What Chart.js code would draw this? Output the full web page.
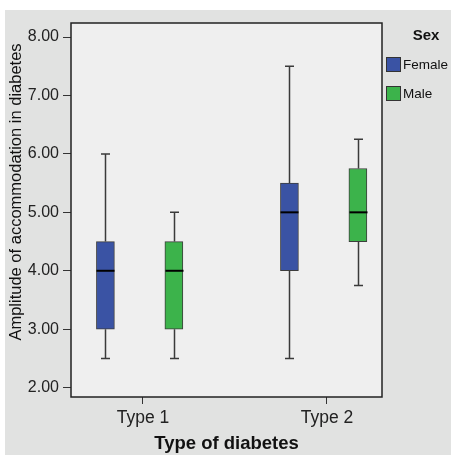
<!DOCTYPE html>
<html>
<head>
<meta charset="utf-8">
<script src="https://cdn.jsdelivr.net/npm/chart.js@4.4.1/dist/chart.umd.min.js"></script>
<style>
  html, body { margin: 0; padding: 0; background: #fff; }
  canvas { display: block; }
</style>
</head>
<body>
<canvas id="c" width="451" height="455"></canvas>
<script>
// data
const categories = ['Type 1', 'Type 2'];
const seriesNames = ['Female', 'Male'];
const yTicks = [2, 3, 4, 5, 6, 7, 8];

const femaleMin = [2.5, 2.5];
const femaleQ1  = [3.0, 4.0];
const femaleMed = [4.0, 5.0];
const femaleQ3  = [4.5, 5.5];
const femaleMax = [6.0, 7.5];

const maleMin = [2.5, 3.75];
const maleQ1  = [3.0, 4.5];
const maleMed = [4.0, 5.0];
const maleQ3  = [4.5, 5.75];
const maleMax = [5.0, 6.25];

const FONT = "'Liberation Sans', Arial, sans-serif";
const colors = ['#3a53a4', '#3cb34b'];
const offsets = [-0.204, 0.168]; // box position relative to the category tick

const stats = [
  { min: femaleMin, q1: femaleQ1, med: femaleMed, q3: femaleQ3, max: femaleMax },
  { min: maleMin, q1: maleQ1, med: maleMed, q3: maleQ3, max: maleMax }
];

const boxPlot = {
  id: 'boxPlot',
  beforeDraw(chart) {
    const { ctx, chartArea: a } = chart;
    ctx.save();
    ctx.fillStyle = '#fff';
    ctx.fillRect(0, 0, chart.width, chart.height);
    ctx.fillStyle = '#e1e2e1';
    ctx.fillRect(5, 10, chart.width - 5, chart.height - 10);
    ctx.fillStyle = '#efefef';
    ctx.fillRect(a.left, a.top, a.right - a.left, a.bottom - a.top);
    ctx.restore();
  },
  beforeDatasetsDraw(chart) {
    const { ctx, scales: { x, y } } = chart;
    ctx.save();
    ctx.strokeStyle = '#3a3a3a';
    ctx.lineWidth = 1.5;
    stats.forEach((s, d) => {
      categories.forEach((c, i) => {
        const px = Math.round(x.getPixelForValue(i + 1 + offsets[d])) + 0.5;
        const yMin = y.getPixelForValue(s.min[i]);
        const yMax = y.getPixelForValue(s.max[i]);
        ctx.beginPath();
        ctx.moveTo(px, yMin); ctx.lineTo(px, y.getPixelForValue(s.q1[i]));
        ctx.moveTo(px, y.getPixelForValue(s.q3[i])); ctx.lineTo(px, yMax);
        ctx.moveTo(px - 4.5, yMin); ctx.lineTo(px + 4.5, yMin);
        ctx.moveTo(px - 4.5, yMax); ctx.lineTo(px + 4.5, yMax);
        ctx.stroke();
      });
    });
    ctx.restore();
  },
  afterDatasetsDraw(chart) {
    const { ctx, chartArea: a, scales: { x, y } } = chart;
    ctx.save();
    ctx.strokeStyle = '#000';
    ctx.lineWidth = 2;
    stats.forEach((s, d) => {
      categories.forEach((c, i) => {
        const px = Math.round(x.getPixelForValue(i + 1 + offsets[d])) + 0.5;
        const py = y.getPixelForValue(s.med[i]);
        ctx.beginPath();
        ctx.moveTo(px - 9, py); ctx.lineTo(px + 9, py);
        ctx.stroke();
      });
    });
    // plot frame
    ctx.strokeStyle = '#222';
    ctx.lineWidth = 1.5;
    ctx.strokeRect(a.left, a.top, a.right - a.left, a.bottom - a.top);
    ctx.restore();
  },
  afterDraw(chart) {
    const { ctx } = chart;
    ctx.save();
    ctx.fillStyle = '#111';
    // y axis title, sits a little above the axis centre in the original
    ctx.save();
    ctx.translate(16, 192);
    ctx.rotate(-Math.PI / 2);
    ctx.font = '16.5px ' + FONT;
    ctx.textAlign = 'center';
    ctx.textBaseline = 'middle';
    ctx.fillText('Amplitude of accommodation in diabetes', 0, 0);
    ctx.restore();
    // legend
    ctx.font = 'bold 15px ' + FONT;
    ctx.textAlign = 'center';
    ctx.textBaseline = 'middle';
    ctx.fillText('Sex', 426, 36);
    ctx.font = '13.5px ' + FONT;
    ctx.textAlign = 'left';
    seriesNames.forEach((n, k) => {
      const top = 57 + k * 29;
      ctx.fillStyle = colors[k];
      ctx.fillRect(386, top, 15, 15);
      ctx.strokeStyle = '#333';
      ctx.lineWidth = 1;
      ctx.strokeRect(386.5, top + 0.5, 14, 14);
      ctx.fillStyle = '#111';
      ctx.fillText(n, 403, top + 8);
    });
    ctx.restore();
  }
};

new Chart(document.getElementById('c'), {
  type: 'bar',
  data: {
    datasets: seriesNames.map((name, d) => ({
      label: name,
      data: categories.map((c, i) => ({ x: i + 1 + offsets[d], y: [stats[d].q1[i], stats[d].q3[i]] })),
      backgroundColor: colors[d],
      borderColor: '#3d3d3d',
      borderWidth: 1,
      borderSkipped: false,
      barThickness: 18,
      grouped: false
    }))
  },
  options: {
    responsive: false,
    animation: false,
    layout: { padding: { top: 23, right: 69, left: 0, bottom: 0 } },
    plugins: { legend: { display: false }, tooltip: { enabled: false } },
    scales: {
      x: {
        type: 'linear',
        offset: false,
        min: 0.609,
        max: 2.299,
        afterBuildTicks: s => { s.ticks = categories.map((c, i) => ({ value: i + 1 })); },
        afterFit: s => { s.height = 58; },
        ticks: {
          callback: v => categories[Math.round(v) - 1],
          font: { family: FONT, size: 17.5 },
          color: '#222',
          padding: 4,
          maxRotation: 0,
          autoSkip: false
        },
        grid: { offset: false, drawOnChartArea: false, drawTicks: true, tickLength: 7, color: '#333' },
        border: { display: false },
        title: {
          display: true,
          text: 'Type of diabetes',
          font: { family: FONT, size: 18.5, weight: 'bold' },
          color: '#111',
          padding: { top: 0, bottom: 0 }
        }
      },
      y: {
        type: 'linear',
        min: 1.84,
        max: 8.24,
        afterBuildTicks: s => { s.ticks = yTicks.map(v => ({ value: v })); },
        afterFit: s => { s.width = 71; },
        ticks: {
          callback: v => v.toFixed(2),
          font: { family: FONT, size: 16 },
          color: '#222',
          padding: 4
        },
        grid: { drawOnChartArea: false, drawTicks: true, tickLength: 8, color: '#333' },
        border: { display: false }
      }
    }
  },
  plugins: [boxPlot]
});
</script>
</body>
</html>
